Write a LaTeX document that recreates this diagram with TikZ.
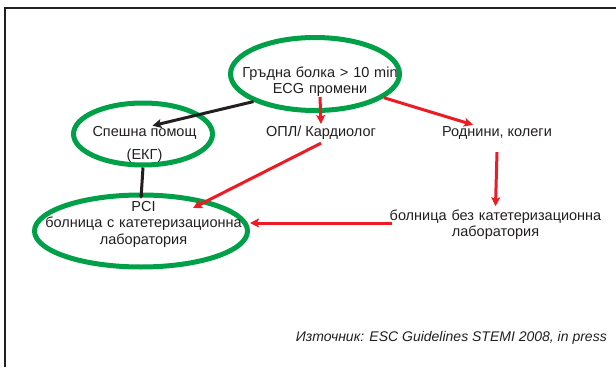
\documentclass[tikz,border=0pt]{standalone}
\usepackage{fontspec}
\setmainfont{Liberation Sans}
\usetikzlibrary{arrows.meta,shapes.geometric}
\definecolor{gr}{RGB}{0,160,72}
\definecolor{rd}{RGB}{237,28,36}
\definecolor{bk}{RGB}{35,31,32}
\begin{document}
\begin{tikzpicture}[x=1pt,y=-1pt,
  font=\fontsize{14.5}{16.5}\selectfont,
  ring/.style={ellipse, draw=gr, line width=5pt, inner sep=0pt},
  lbl/.style={text=bk, inner sep=0pt, align=center},
  mlbl/.style={text=bk, inner sep=0pt, align=center, anchor=base},
  redarr/.style={draw=rd, line width=3pt, -{Stealth[length=9pt,width=9pt,inset=2pt]}},
  blkarr/.style={draw=bk, line width=3pt, -{Stealth[length=9pt,width=9pt,inset=2pt]}},
  blksmall/.style={draw=bk, line width=3pt, -{Stealth[length=4pt,width=5pt]}}]
\useasboundingbox (0,0) rectangle (616,367);
\fill[white] (0,0) rectangle (616,367);
\draw[bk, line width=2pt] (5,367) -- (5,8) -- (616,8);

% ellipses
\node[ring, minimum width=169pt, minimum height=73pt] (e1) at (315,74) {};
\node[ring, minimum width=139pt, minimum height=62pt] (e2) at (143,134) {};
\node[ring, minimum width=213pt, minimum height=72pt] (e3) at (141,231) {};

% texts
\node[mlbl, text width=200pt] (t1) at (320,77) {Гръдна болка > 10 min\\ECG промени};
\node[lbl, anchor=base] (sp) at (144.5,136) {Спешна помощ};
\node[lbl, anchor=base] (ekg) at (144.5,159) {(ЕКГ)};
\node[mlbl, text width=230pt] (pci) at (143.5,211) {PCI\\болница с катетеризационна\\лаборатория};
\node[lbl, anchor=base] (opl) at (321,136) {ОПЛ/ Кардиолог};
\node[lbl, anchor=base] (rod) at (497,136) {Роднини, колеги};
\node[mlbl, text width=240pt] (bez) at (495.5,220) {болница без катетеризационна\\лаборатория};
\node[lbl, anchor=base east, font=\fontsize{14}{16}\selectfont\itshape] (src) at (607,341) {Източник: ESC Guidelines STEMI 2008, in press};

% connectors
\coordinate (oplTop) at (321,124);
\coordinate (e1low) at (320,97);
\draw[redarr] (e1low) -- (oplTop);
\draw[blkarr] (e1.south west) -- ([xshift=8pt]sp.north);
\draw[redarr] (e1.-19) -- ([xshift=-24pt,yshift=1pt]rod.north);
\draw[redarr] ([yshift=-13pt]rod.south) -- ([yshift=3pt]bez.north);
\draw[redarr] ([yshift=-4pt]opl.south) -- ([shift={(52pt,23pt)}]e3.center);
\coordinate (bezL) at (392,223);
\draw[redarr] (bezL) -- (bezL -| e3.east);
\draw[blksmall] (e2.south) -- ([yshift=2pt]e3.north |- pci.north);
\end{tikzpicture}
\end{document}
